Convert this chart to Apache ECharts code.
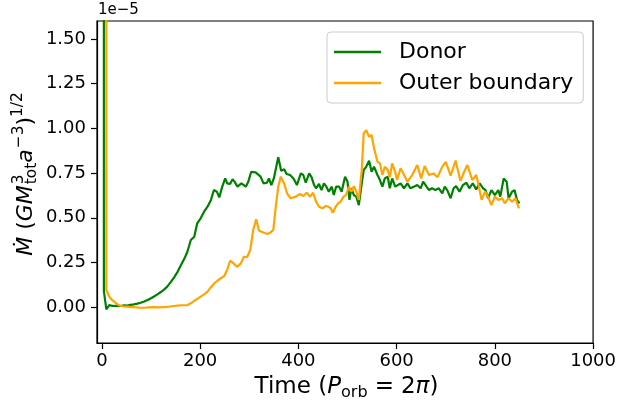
<!DOCTYPE html>
<html>
<head>
<meta charset="utf-8">
<script src="https://cdn.jsdelivr.net/npm/echarts@6/dist/echarts.min.js"></script>
<style>
  html, body { margin: 0; padding: 0; background: #ffffff; }
  #chart { width: 619px; height: 405px; }
</style>
</head>
<body>
<div id="chart"></div>
<script>
// Mass-transfer rate (units of 1e-5) versus time, for the donor and the outer boundary
const donorTime = [3, 4, 9, 15, 20, 25, 32, 39, 45, 52, 58, 65, 72, 79, 86, 93, 100, 106, 113, 120, 127, 133, 140, 147, 154, 161, 168, 174, 181, 188, 194, 201, 208, 215, 222, 228, 234, 239, 245, 251, 255, 261, 266, 270, 276, 284, 293, 298, 304, 313, 323, 329, 336, 340, 345, 350, 359, 365, 371, 376, 383, 390, 397, 405, 410, 415, 422, 427, 432, 436, 442, 447, 452, 457, 462, 468, 472, 477, 483, 488, 495, 500, 504, 508, 513, 518, 523, 529, 533, 538, 544, 549, 554, 561, 566, 571, 576, 582, 586, 591, 597, 601, 608, 615, 622, 628, 635, 642, 649, 654, 661, 666, 672, 679, 686, 693, 698, 703, 710, 716, 721, 728, 735, 742, 748, 755, 762, 769, 776, 781, 786, 793, 800, 807, 811, 818, 824, 828, 835, 840, 845, 850];
const donorRate = [60, 0.09, -0.012, 0.012, 0.008, 0.007, 0.009, 0.007, 0.010, 0.009, 0.013, 0.016, 0.020, 0.025, 0.032, 0.040, 0.050, 0.060, 0.072, 0.085, 0.100, 0.115, 0.140, 0.167, 0.198, 0.236, 0.272, 0.310, 0.376, 0.394, 0.469, 0.497, 0.534, 0.562, 0.600, 0.655, 0.646, 0.614, 0.674, 0.720, 0.692, 0.689, 0.715, 0.702, 0.674, 0.692, 0.674, 0.702, 0.757, 0.754, 0.730, 0.692, 0.696, 0.720, 0.683, 0.720, 0.838, 0.763, 0.771, 0.745, 0.739, 0.720, 0.683, 0.748, 0.739, 0.696, 0.748, 0.726, 0.683, 0.665, 0.689, 0.655, 0.692, 0.674, 0.646, 0.674, 0.627, 0.674, 0.674, 0.646, 0.730, 0.702, 0.600, 0.665, 0.627, 0.618, 0.571, 0.692, 0.767, 0.785, 0.819, 0.757, 0.785, 0.739, 0.711, 0.674, 0.720, 0.730, 0.665, 0.720, 0.674, 0.683, 0.692, 0.665, 0.692, 0.665, 0.674, 0.683, 0.665, 0.702, 0.674, 0.655, 0.665, 0.655, 0.665, 0.637, 0.674, 0.655, 0.609, 0.665, 0.677, 0.646, 0.683, 0.696, 0.665, 0.693, 0.659, 0.693, 0.665, 0.655, 0.609, 0.655, 0.627, 0.655, 0.618, 0.720, 0.702, 0.609, 0.646, 0.655, 0.600, 0.581];

const outerTime = [8, 9, 15, 20, 25, 32, 39, 45, 52, 60, 66, 75, 86, 95, 106, 115, 127, 137, 147, 154, 161, 168, 174, 181, 188, 195, 201, 208, 215, 222, 229, 235, 242, 249, 255, 261, 268, 275, 283, 289, 296, 302, 308, 314, 320, 330, 337, 342, 349, 354, 359, 364, 371, 377, 384, 395, 403, 410, 417, 424, 430, 436, 442, 449, 456, 461, 466, 470, 476, 481, 486, 492, 497, 503, 508, 513, 518, 523, 529, 533, 538, 544, 549, 554, 561, 566, 571, 576, 582, 586, 591, 597, 601, 608, 615, 622, 632, 642, 650, 657, 666, 676, 683, 693, 700, 710, 720, 730, 738, 744, 754, 762, 766, 773, 780, 786, 793, 800, 807, 815, 820, 828, 835, 842, 849];
const outerRate = [60, 0.096, 0.059, 0.042, 0.031, 0.015, 0.007, 0.004, 0.003, 0.001, 0.000, -0.002, -0.003, -0.001, 0.001, -0.001, 0.000, 0.003, 0.007, 0.009, 0.011, 0.011, 0.012, 0.022, 0.036, 0.048, 0.059, 0.072, 0.087, 0.112, 0.134, 0.148, 0.162, 0.174, 0.208, 0.260, 0.245, 0.226, 0.245, 0.282, 0.282, 0.320, 0.432, 0.491, 0.428, 0.416, 0.409, 0.416, 0.432, 0.562, 0.674, 0.730, 0.692, 0.637, 0.609, 0.618, 0.633, 0.622, 0.640, 0.618, 0.640, 0.590, 0.562, 0.553, 0.566, 0.562, 0.553, 0.528, 0.562, 0.581, 0.590, 0.618, 0.627, 0.674, 0.646, 0.677, 0.646, 0.600, 0.767, 0.972, 0.990, 0.953, 0.963, 0.888, 0.813, 0.804, 0.739, 0.785, 0.767, 0.726, 0.804, 0.757, 0.711, 0.777, 0.740, 0.702, 0.740, 0.795, 0.720, 0.789, 0.739, 0.748, 0.726, 0.785, 0.813, 0.735, 0.820, 0.706, 0.760, 0.795, 0.711, 0.739, 0.693, 0.600, 0.646, 0.618, 0.571, 0.618, 0.600, 0.609, 0.581, 0.609, 0.590, 0.609, 0.553];

const seriesNames = ['Donor', 'Outer boundary'];
const seriesColors = ['#008000', '#ffa500'];
const xTicks = [0, 200, 400, 600, 800, 1000];
const yTicks = [0, 0.25, 0.5, 0.75, 1.0, 1.25, 1.5];
const offsetText = '1e\u22125';

const FONT = 'DejaVu Sans';
const measureCtx = document.createElement('canvas').getContext('2d');

function textWidth(text, size, italic) {
  measureCtx.font = (italic ? 'italic ' : '') + size + 'px "' + FONT + '"';
  return measureCtx.measureText(text).width;
}
// distance between the alphabetic baseline and the 'middle' baseline
function middleDrop(size) {
  measureCtx.font = size + 'px "' + FONT + '"';
  measureCtx.textBaseline = 'middle';
  const d = measureCtx.measureText('x').actualBoundingBoxDescent;
  measureCtx.textBaseline = 'alphabetic';
  return d;
}

// lay out a math-style label from pieces on a common baseline (y = 0)
function mathLabel(pieces) {
  const children = [];
  let x = 0;
  let pendingWidth = 0;
  pieces.forEach(function (p) {
    const size = p.size;
    const w = textWidth(p.t, size, p.italic);
    children.push({
      type: 'text',
      x: x + (p.dx || 0),
      y: (p.dy || 0) - middleDrop(size),
      style: {
        text: p.t,
        fontFamily: FONT,
        fontSize: size,
        fontStyle: p.italic ? 'italic' : 'normal',
        fill: '#000000',
        align: 'left',
        verticalAlign: 'middle'
      }
    });
    if (p.stack) {
      pendingWidth = Math.max(pendingWidth, w);
    } else {
      x += Math.max(w, pendingWidth) + (p.gap || 0);
      pendingWidth = 0;
    }
  });
  return { children: children, width: x };
}

const S = 22, s = 15.4;
const XS = 23, xs = 16.1;
const yLabel = mathLabel([
  { t: '\u1E40', size: S, italic: true },
  { t: ' (', size: S },
  { t: 'GM', size: S, italic: true, gap: 1 },
  { t: '3', size: s, dy: -9, stack: true },
  { t: 'tot', size: s, dy: 4 },
  { t: 'a', size: S, italic: true, gap: 1 },
  { t: '\u22123', size: s, dy: -9 },
  { t: ')', size: S },
  { t: '1/2', size: s, dy: -10 }
]);
const xLabel = mathLabel([
  { t: 'Time (', size: XS },
  { t: 'P', size: XS, italic: true },
  { t: 'orb', size: xs, dy: 4, gap: 7 },
  { t: '=', size: XS, gap: 7 },
  { t: '2', size: XS },
  { t: '\u03C0', size: XS, italic: true },
  { t: ')', size: XS }
]);

const chart = echarts.init(document.getElementById('chart'), null, { renderer: 'canvas' });

const axisCommon = {
  axisLine: { show: true, onZero: false, lineStyle: { color: '#000000', width: 1.2 } },
  axisTick: { show: true, inside: false, length: 6, lineStyle: { color: '#000000', width: 1.2 } },
  splitLine: { show: false },
  axisLabel: { color: '#000000', fontFamily: FONT, fontSize: 18 }
};

chart.setOption({
  animation: false,
  backgroundColor: '#ffffff',
  grid: {
    left: 97, right: 25, top: 21, bottom: 62,
    show: true, borderColor: '#000000', borderWidth: 1.2, backgroundColor: 'transparent'
  },
  legend: {
    data: seriesNames,
    orient: 'vertical',
    left: 327, top: 32,
    icon: 'rect', itemWidth: 47, itemHeight: 2.5, itemGap: 9,
    padding: [9, 10, 9, 7],
    backgroundColor: 'rgba(255,255,255,0.8)',
    borderColor: '#cccccc', borderWidth: 1, borderRadius: 4,
    textStyle: { fontFamily: FONT, fontSize: 22, color: '#000000', lineHeight: 22, padding: [0, 0, 0, 13] }
  },
  xAxis: {
    type: 'value', min: -10, max: 1000,
    axisLine: axisCommon.axisLine,
    axisTick: Object.assign({ customValues: xTicks }, axisCommon.axisTick),
    axisLabel: Object.assign({ customValues: xTicks, margin: 9, formatter: function (v) { return String(v); } }, axisCommon.axisLabel),
    splitLine: axisCommon.splitLine
  },
  yAxis: {
    type: 'value', min: -0.2, max: 1.6,
    axisLine: axisCommon.axisLine,
    axisTick: Object.assign({ customValues: yTicks }, axisCommon.axisTick),
    axisLabel: Object.assign({ customValues: yTicks, margin: 11, formatter: function (v) { return v.toFixed(2); } }, axisCommon.axisLabel),
    splitLine: axisCommon.splitLine
  },
  series: [
    {
      name: seriesNames[0], type: 'line', showSymbol: false, clip: true,
      lineStyle: { color: seriesColors[0], width: 2.2 }, itemStyle: { color: seriesColors[0] },
      data: donorTime.map(function (t, i) { return [t, donorRate[i]]; })
    },
    {
      name: seriesNames[1], type: 'line', showSymbol: false, clip: true,
      lineStyle: { color: seriesColors[1], width: 2.2 }, itemStyle: { color: seriesColors[1] },
      data: outerTime.map(function (t, i) { return [t, outerRate[i]]; })
    }
  ],
  graphic: [
    {
      type: 'text', left: 98, top: 3,
      style: { text: offsetText, fontFamily: FONT, fontSize: 15, fill: '#000000' }
    },
    {
      type: 'group', x: 32, y: 174 + yLabel.width / 2, rotation: Math.PI / 2,
      children: yLabel.children
    },
    {
      type: 'group', x: 346.5 - xLabel.width / 2, y: 393,
      children: xLabel.children
    }
  ]
});
</script>
</body>
</html>
